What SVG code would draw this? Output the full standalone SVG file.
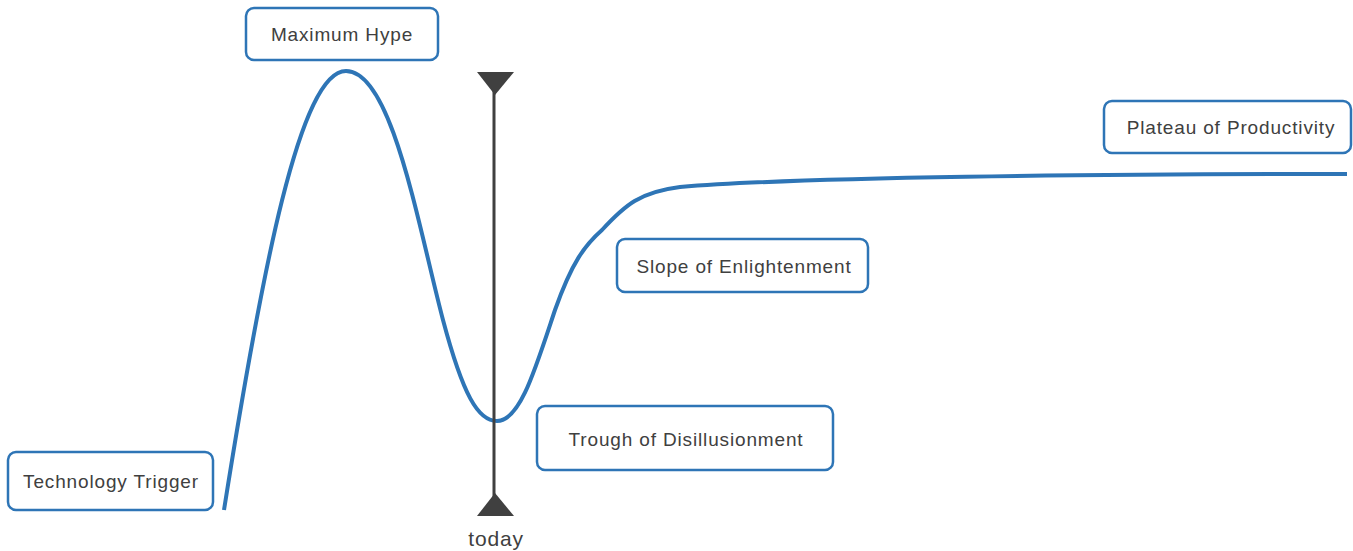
<svg xmlns="http://www.w3.org/2000/svg" width="1353" height="551" viewBox="0 0 1353 551">
  <style>
    .box rect { fill: #ffffff; stroke: #2e75b6; stroke-width: 2.5; }
    .box text { font-family: "Liberation Sans", Arial, sans-serif; font-size: 19px; letter-spacing: 0.85px; fill: #404040; text-anchor: middle; }
    .curve { fill: none; stroke: #2e75b6; stroke-width: 4; stroke-linecap: butt; }
    .marker-line { stroke: #404040; stroke-width: 3; }
    .marker-head { fill: #404040; }
    .label { font-family: "Liberation Sans", Arial, sans-serif; font-size: 21px; letter-spacing: 0.8px; fill: #404040; text-anchor: middle; }
  </style>
  <rect width="1353" height="551" fill="#ffffff"/>

  <g id="connectors">
    <!-- hype cycle curve -->
    <path class="curve" d="M224,510 C262,270 300,71 346,71 C392,71 418,225 443,320 C463,395 478,421 497,421 C520,421 535,370 555,310 C572,262 585,245 602,230 C625,205 640,192 680,187 C800,177 1100,174 1347,174"/>
  </g>

  <g id="today">
    <line class="marker-line" x1="494" y1="80" x2="494" y2="505"/>
    <polygon class="marker-head" points="477,72 514,72 495,95"/>
    <polygon class="marker-head" points="477,516 514,516 495,493"/>
    <text class="label" x="496" y="546">today</text>
  </g>

  <g id="maximum-hype" class="box">
    <rect x="246" y="8" width="192" height="52" rx="8"/>
    <text x="342" y="41">Maximum Hype</text>
  </g>

  <g id="technology-trigger" class="box">
    <rect x="8" y="452" width="205" height="58" rx="8"/>
    <text x="111" y="488">Technology Trigger</text>
  </g>

  <g id="trough-of-disillusionment" class="box">
    <rect x="537" y="406" width="296" height="64" rx="8"/>
    <text x="686" y="446">Trough of Disillusionment</text>
  </g>

  <g id="slope-of-enlightenment" class="box">
    <rect x="617" y="239" width="251" height="53" rx="8"/>
    <text x="744" y="273">Slope of Enlightenment</text>
  </g>

  <g id="plateau-of-productivity" class="box">
    <rect x="1104" y="101" width="247" height="52" rx="8"/>
    <text x="1231" y="134">Plateau of Productivity</text>
  </g>
</svg>
